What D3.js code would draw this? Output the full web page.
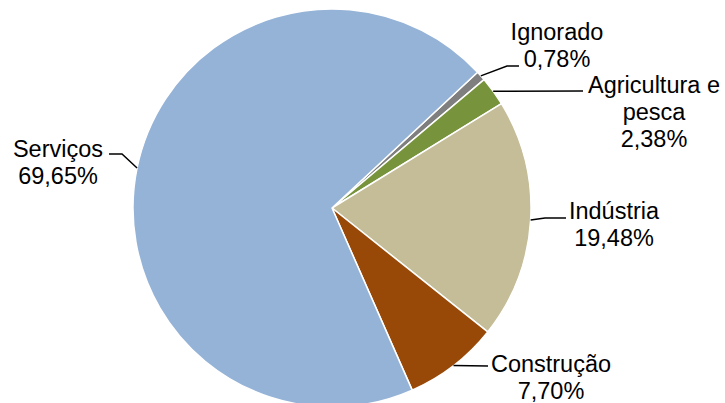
<!DOCTYPE html>
<html>
<head>
<meta charset="utf-8">
<script src="https://cdn.jsdelivr.net/npm/d3@7"></script>
<style>
  html, body { margin: 0; padding: 0; background: #ffffff; }
  svg { display: block; }
  text { font-family: "Liberation Sans", Arial, sans-serif; fill: #000; }
</style>
</head>
<body>
<svg id="chart" width="725" height="403"></svg>
<script>
// Employment by sector (% share)
const sectors = ["Ignorado", "Agricultura e pesca", "Indústria", "Construção", "Serviços"];
const shares = [0.78, 2.38, 19.48, 7.70, 69.65];
const sliceColors = ["#7f7f7f", "#77933c", "#c4bd97", "#984807", "#95b3d7"];
// Label text lines (sector name split as printed)
const labelLines = [["Ignorado"], ["Agricultura e", "pesca"], ["Indústria"], ["Construção"], ["Serviços"]];

const width = 725, height = 403;
const cx = 332, cy = 208, radius = 199;
const startDeg = 47;

// Label placement: text centre x, first baseline y, leader elbow and end points
const labelLayout = [
  { x: 557, y: 40,  elbow: [507, 66],  end: [519, 66] },
  { x: 654, y: 93,  elbow: [583, 91],  end: [583, 91] },
  { x: 614, y: 219, elbow: [545, 218], end: [566, 218] },
  { x: 551, y: 372, elbow: [488, 366], end: [488, 366] },
  { x: 58,  y: 157, elbow: [122, 154], end: [109, 154] }
];
const lineGap = 27;

const pt = d3.formatLocale({ decimal: ",", thousands: ".", grouping: [3], currency: ["", ""] });
const fmt = v => pt.format(".2f")(v) + "%";

const data = sectors.map((s, i) => ({ name: s, value: shares[i], color: sliceColors[i], lines: labelLines[i], layout: labelLayout[i] }));

const svg = d3.select("#chart");
const g = svg.append("g").attr("transform", `translate(${cx},${cy})`);

const start = startDeg * Math.PI / 180;
const pie = d3.pie().value(d => d.value).sort(null).startAngle(start).endAngle(start + 2 * Math.PI);
const arc = d3.arc().innerRadius(0).outerRadius(radius);
const arcs = pie(data);

g.selectAll("path.slice")
  .data(arcs)
  .join("path")
  .attr("class", "slice")
  .attr("d", arc)
  .attr("fill", d => d.data.color)
  .attr("stroke", "#ffffff")
  .attr("stroke-width", 1.5)
  .attr("stroke-linejoin", "round");

// Leader lines from slice mid-angle on the rim to the label
const leaders = svg.append("g");
arcs.forEach(a => {
  const mid = (a.startAngle + a.endAngle) / 2;
  const sx = cx + radius * Math.sin(mid);
  const sy = cy - radius * Math.cos(mid);
  const L = a.data.layout;
  leaders.append("polyline")
    .attr("points", [[sx, sy], L.elbow, L.end].map(p => p.join(",")).join(" "))
    .attr("fill", "none")
    .attr("stroke", "#000")
    .attr("stroke-width", 1.5);
});

// Labels: name lines followed by percentage
const labels = svg.append("g");
arcs.forEach(a => {
  const L = a.data.layout;
  const t = labels.append("text")
    .attr("text-anchor", "middle")
    .attr("font-size", 23.5);
  const lines = a.data.lines.concat([fmt(a.data.value)]);
  lines.forEach((ln, i) => {
    t.append("tspan").attr("x", L.x).attr("y", L.y + i * lineGap).text(ln);
  });
});
</script>
</body>
</html>
